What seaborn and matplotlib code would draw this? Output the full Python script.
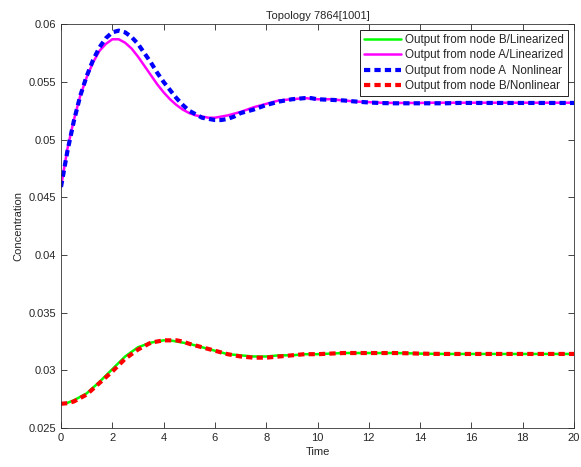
import pandas as pd
import matplotlib.pyplot as plt
import seaborn as sns
from matplotlib.ticker import FormatStrFormatter, MultipleLocator

sns.set_style("ticks")
plt.rcParams['font.family'] = ['Liberation Sans', 'DejaVu Sans']

# time samples (finer where the curves bend)
time = [0, 0.25, 0.5, 0.75, 1, 1.25, 1.5, 1.75, 2, 2.25, 2.5, 2.75, 3, 3.25, 3.5, 3.75,
        4, 4.25, 4.5, 4.75, 5, 5.25, 5.5, 5.75, 6, 6.25, 6.5, 6.75, 7, 7.25, 7.5, 7.75,
        8, 8.25, 8.5, 8.75, 9, 9.25, 9.5, 9.75, 10,
        10.5, 11, 11.5, 12, 12.5, 13, 13.5, 14, 14.5, 15, 15.5, 16, 16.5, 17, 17.5,
        18, 18.5, 19, 19.5, 20]

b_lin = [0.0271, 0.02718, 0.0274, 0.0277, 0.0280, 0.0285, 0.0290, 0.02955, 0.0301, 0.03065,
         0.0312, 0.0316, 0.0320, 0.0322, 0.0324, 0.0325, 0.0326, 0.0326, 0.0325, 0.0324,
         0.0323, 0.03215, 0.0320, 0.03185, 0.0317, 0.03155, 0.0314, 0.03135, 0.0313, 0.03125,
         0.0312, 0.0312, 0.0312, 0.03125, 0.0313, 0.0313, 0.0313, 0.03135, 0.0314, 0.0314,
         0.0314,
         0.03145, 0.0315, 0.0315, 0.0315, 0.0315, 0.0315, 0.03148, 0.03145, 0.03143, 0.03142,
         0.03142, 0.03142, 0.03142, 0.03142, 0.03142, 0.03142, 0.03142, 0.03142, 0.03142, 0.03142]

a_lin = [0.0459, 0.0492, 0.0517, 0.0538, 0.0554, 0.0567, 0.0577, 0.0583, 0.0587, 0.0587,
         0.0584, 0.0579, 0.0572, 0.0564, 0.0556, 0.0548, 0.0541, 0.0535, 0.0530, 0.0526,
         0.0523, 0.0521, 0.0520, 0.0519, 0.0519, 0.0520, 0.0521, 0.05225, 0.0524, 0.0526,
         0.0528, 0.05295, 0.0531, 0.05325, 0.0534, 0.05345, 0.0535, 0.05355, 0.0536, 0.05355,
         0.0535,
         0.0535, 0.0534, 0.0533, 0.05325, 0.0532, 0.05318, 0.05318, 0.05318, 0.0532, 0.0532,
         0.0532, 0.0532, 0.0532, 0.0532, 0.0532, 0.0532, 0.0532, 0.0532, 0.0532, 0.0532]

a_nonlin = [0.0459, 0.0490, 0.0516, 0.0538, 0.0555, 0.0569, 0.0580, 0.0588, 0.0593, 0.05945,
            0.0593, 0.0589, 0.0583, 0.0575, 0.0567, 0.0558, 0.0550, 0.0543, 0.0536, 0.0530,
            0.0525, 0.0522, 0.0519, 0.0518, 0.0517, 0.0517, 0.0518, 0.0520, 0.0523, 0.05245,
            0.0526, 0.0528, 0.0530, 0.05315, 0.0533, 0.0534, 0.0535, 0.05355, 0.0536, 0.0536,
            0.0535,
            0.05345, 0.0534, 0.0533, 0.05322, 0.05317, 0.05315, 0.05315, 0.05315, 0.05315, 0.05315,
            0.05318, 0.05318, 0.05318, 0.05318, 0.05318, 0.05318, 0.05318, 0.05318, 0.05318, 0.05318]

b_nonlin = [0.0271, 0.02715, 0.0273, 0.0276, 0.0279, 0.0284, 0.0289, 0.0294, 0.0299, 0.03045,
            0.0310, 0.0314, 0.0318, 0.0321, 0.0324, 0.0325, 0.0326, 0.0326, 0.0326, 0.0325,
            0.0323, 0.03215, 0.0320, 0.03185, 0.0317, 0.03155, 0.0314, 0.0313, 0.0312, 0.03115,
            0.0311, 0.0311, 0.0311, 0.03115, 0.0312, 0.03125, 0.0313, 0.03135, 0.0314, 0.0314,
            0.0314,
            0.03145, 0.0315, 0.0315, 0.0315, 0.0315, 0.0315, 0.03148, 0.03145, 0.03143, 0.03142,
            0.03142, 0.03142, 0.03142, 0.03142, 0.03142, 0.03142, 0.03142, 0.03142, 0.03142, 0.03142]

labels = ["Output from node B/Linearized", "Output from node A/Linearized",
          "Output from node A  Nonlinear", "Output from node B/Nonlinear"]

df = pd.DataFrame({"time": time, labels[0]: b_lin, labels[1]: a_lin,
                   labels[2]: a_nonlin, labels[3]: b_nonlin})

fig = plt.figure(figsize=(5.81, 4.67), dpi=100)
ax = fig.add_axes([0.105, 0.0835, 0.883, 0.8645])

sns.lineplot(x="time", y=labels[0], data=df, ax=ax, color="#00ff00", lw=1.8, label=labels[0])
sns.lineplot(x="time", y=labels[1], data=df, ax=ax, color="#ff00ff", lw=1.8, label=labels[1])
sns.lineplot(x="time", y=labels[2], data=df, ax=ax, color="#0000ff", lw=3, label=labels[2],
             dashes=False, linestyle=(0, (1.5, 1)))
sns.lineplot(x="time", y=labels[3], data=df, ax=ax, color="#ff0000", lw=3, label=labels[3],
             dashes=False, linestyle=(0, (1.5, 1)))

ax.set_xlim(0, 20)
ax.set_ylim(0.025, 0.06)
ax.xaxis.set_major_locator(MultipleLocator(2))
ax.yaxis.set_major_locator(MultipleLocator(0.005))
ax.yaxis.set_major_formatter(FormatStrFormatter('%g'))
ax.tick_params(direction='in', top=True, right=True, labelsize=8, length=4, width=0.6)
for s in ax.spines.values():
    s.set_linewidth(0.6)
    s.set_color('#333333')

ax.set_title("Topology 7864[1001]", fontsize=8, pad=4)
ax.set_xlabel("Time", fontsize=8, labelpad=3)
ax.set_ylabel("Concentration", fontsize=8, labelpad=4)

leg = ax.legend(loc="upper right", fontsize=8.4, fancybox=False, framealpha=1,
                edgecolor="black", handlelength=3.1, borderaxespad=0.5,
                labelspacing=0.28, handletextpad=0.4, borderpad=0.35)
leg.get_frame().set_linewidth(0.6)

plt.savefig("out.png", dpi=100)
